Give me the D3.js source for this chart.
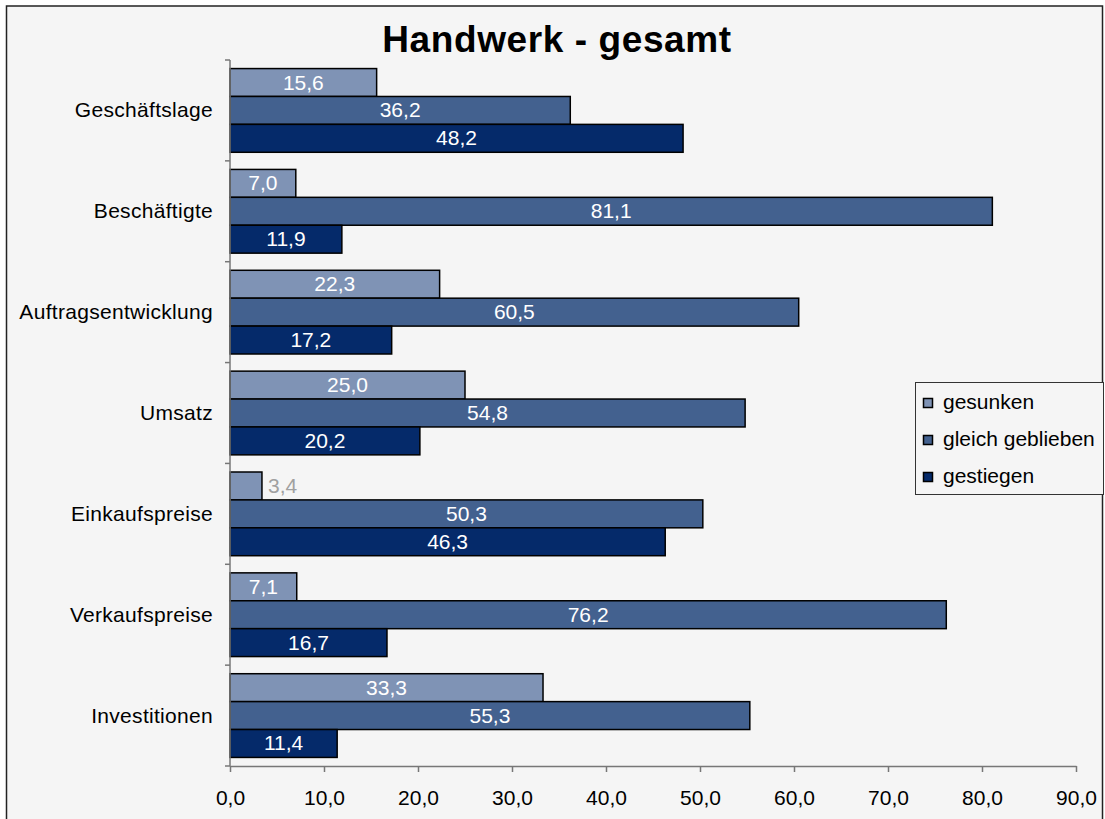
<!DOCTYPE html>
<html><head><meta charset="utf-8">
<script src="https://cdn.jsdelivr.net/npm/d3@7"></script>
<style>body{margin:0;background:#fff;}svg{display:block;font-family:"Liberation Sans",Arial,sans-serif;}</style>
</head><body>
<script>
const categories = ["Geschäftslage","Beschäftigte","Auftragsentwicklung","Umsatz","Einkaufspreise","Verkaufspreise","Investitionen"];
const seriesNames = ["gesunken","gleich geblieben","gestiegen"];
const gesunken = [15.6, 7.0, 22.3, 25.0, 3.4, 7.1, 33.3];
const gleichGeblieben = [36.2, 81.1, 60.5, 54.8, 50.3, 76.2, 55.3];
const gestiegen = [48.2, 11.9, 17.2, 20.2, 46.3, 16.7, 11.4];
const tickValues = [0,10,20,30,40,50,60,70,80,90];
const colors = ["#7f93b5","#43618f","#052a6a"];
const title = "Handwerk - gesamt";

const W = 1105, H = 819;
const svg = d3.select("body").append("svg").attr("width", W).attr("height", H);
svg.append("rect").attr("x",6.5).attr("y",6).attr("width",1096).attr("height",830)
  .attr("fill","#f5f5f5").attr("stroke","#222").attr("stroke-width",1.5);

const x = d3.scaleLinear().domain([0,90]).range([230,1076]);
const y0 = d3.scaleBand().domain(categories).range([60,766]).paddingInner(0.17).paddingOuter(0.085);
const y1 = d3.scaleBand().domain(seriesNames).range([0,y0.bandwidth()]);
const series = [gesunken, gleichGeblieben, gestiegen];
const fmt = v => d3.format(".1f")(v).replace(".", ",");

svg.append("text").attr("x",557).attr("y",52).attr("text-anchor","middle")
  .attr("font-size",37).attr("font-weight","bold").attr("letter-spacing",0.6).text(title);

categories.forEach((c,i)=>{
  series.forEach((s,j)=>{
    const v = s[i];
    const yy = y0(c)+y1(seriesNames[j]);
    svg.append("rect").attr("x",x(0)).attr("y",yy).attr("width",x(v)-x(0)).attr("height",y1.bandwidth())
      .attr("fill",colors[j]).attr("stroke","#000").attr("stroke-width",1.5);
    const w = x(v)-x(0);
    const inside = w > 50;
    svg.append("text")
      .attr("x", inside ? x(0)+w/2 : x(v)+6)
      .attr("y", yy+y1.bandwidth()/2+7)
      .attr("text-anchor", inside ? "middle" : "start")
      .attr("font-size",21).attr("fill", inside ? "#fff" : "#a0a0a0").text(fmt(v));
  });
});

// y axis
const ya = svg.append("g").attr("transform",`translate(${x(0)},0)`);
ya.append("line").attr("x1",0).attr("x2",0).attr("y1",60).attr("y2",766).attr("stroke","#777").attr("stroke-width",1.5);
const bounds = d3.range(categories.length+1).map(k=>60+k*(706/categories.length));
bounds.forEach(b=>ya.append("line").attr("x1",-5).attr("x2",0).attr("y1",b).attr("y2",b).attr("stroke","#777").attr("stroke-width",1.5));
categories.forEach(c=>{
  svg.append("text").attr("x",213).attr("y",y0(c)+y0.bandwidth()/2+7).attr("text-anchor","end")
    .attr("font-size",21).attr("letter-spacing",0.3).attr("fill","#000").text(c);
});

// x axis
const xa = svg.append("g").attr("transform","translate(0,766)")
  .call(d3.axisBottom(x).tickValues(tickValues).tickSize(6).tickSizeOuter(0).tickPadding(18).tickFormat(fmt));
xa.select(".domain").attr("stroke","#777").attr("stroke-width",1.5);
xa.selectAll(".tick line").attr("stroke","#777").attr("stroke-width",1.5);
xa.selectAll(".tick text").attr("font-size",21).attr("fill","#000").attr("font-family","'Liberation Sans',Arial,sans-serif");

// legend
const lg = svg.append("g");
lg.append("rect").attr("x",915.5).attr("y",382.5).attr("width",188).attr("height",112)
  .attr("fill","#f5f5f5").attr("stroke","#333").attr("stroke-width",1);
seriesNames.forEach((n,j)=>{
  const cy = 403 + j*37;
  lg.append("rect").attr("x",923.5).attr("y",cy-4.5).attr("width",9).attr("height",9)
    .attr("fill",colors[j]).attr("stroke","#000").attr("stroke-width",1.5);
  lg.append("text").attr("x",943).attr("y",cy+6).attr("font-size",21).text(n);
});
</script>
</body></html>
